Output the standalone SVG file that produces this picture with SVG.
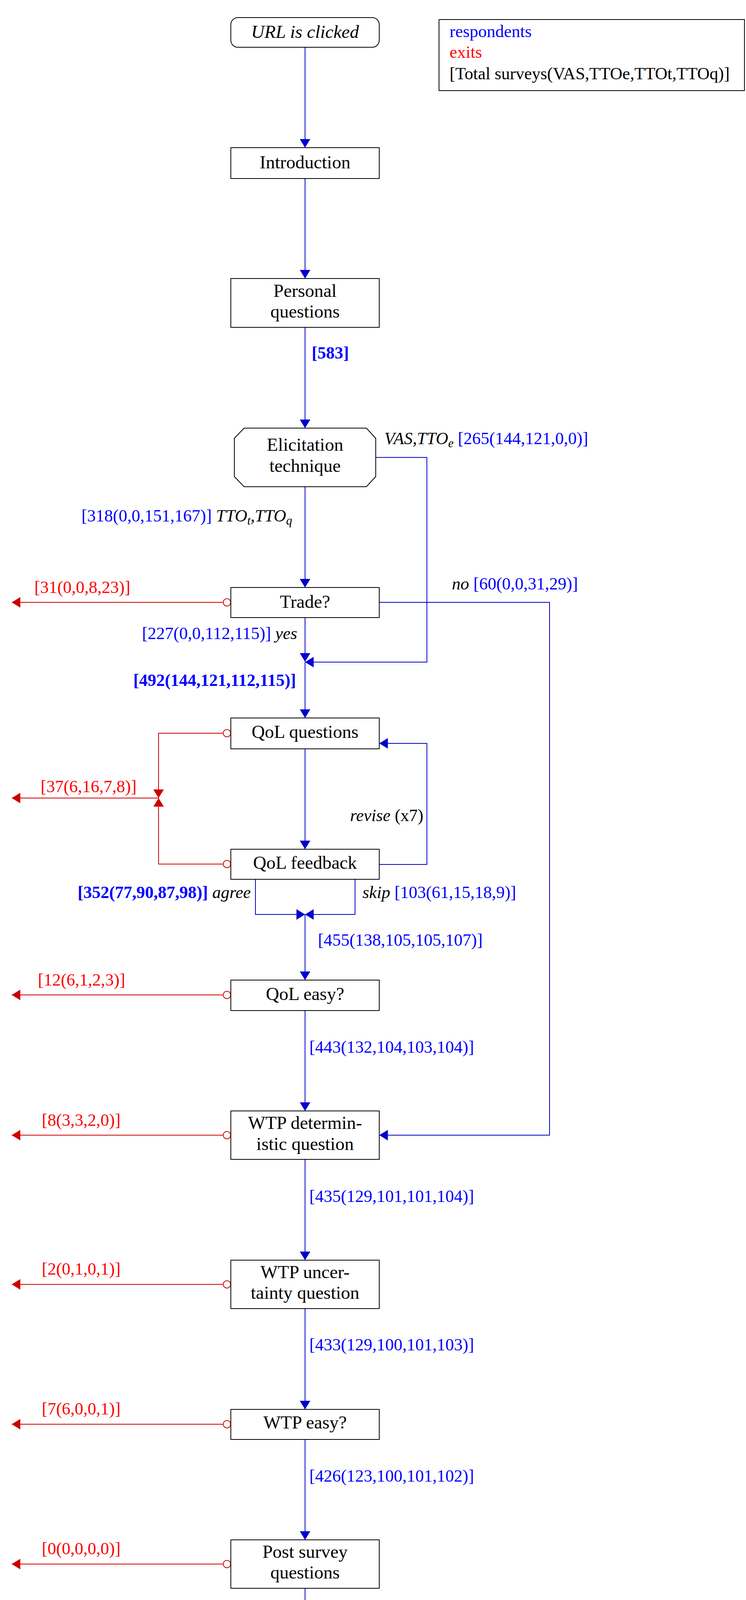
<svg xmlns="http://www.w3.org/2000/svg" width="1910" height="4386" viewBox="0 0 1910 4386">
<style>
text{font-family:"Liberation Serif","Times New Roman",serif;}
.node{fill:#fff;stroke:#000;stroke-width:2;}
.nt{font-size:47px;fill:#000;text-anchor:middle;}
.lb{font-size:44px;}
.b{fill:#0000ff;}
.r{fill:#ff0000;}
.k{fill:#000;}
.it{font-style:italic;}
.bd{font-weight:bold;}
.cb{fill:none;stroke:#0000cc;stroke-width:2;}
.cr{fill:none;stroke:#cc0000;stroke-width:2;}
.circ{fill:#fff;stroke:#cc0000;stroke-width:2;}
</style>
<defs>
<marker id="ab" markerUnits="userSpaceOnUse" markerWidth="22" markerHeight="27" refX="22" refY="13.5" orient="auto" viewBox="0 0 22 27">
<path d="M0,0 L22,13.5 L0,27 z" fill="#0000cc"/>
</marker>
<marker id="ar" markerUnits="userSpaceOnUse" markerWidth="22" markerHeight="27" refX="22" refY="13.5" orient="auto" viewBox="0 0 22 27">
<path d="M0,0 L22,13.5 L0,27 z" fill="#cc0000"/>
</marker>
</defs>
<rect width="1910" height="4386" fill="#fff"/>

<g id="connectors">
<path class="cb" d="M781,121 V378" marker-end="url(#ab)"/>
<path class="cb" d="M781,457 V713" marker-end="url(#ab)"/>
<path class="cb" d="M781,838 V1096" marker-end="url(#ab)"/>
<path class="cb" d="M781,1246 V1504" marker-end="url(#ab)"/>
<path class="cb" d="M962,1171 H1093 V1695 H781" marker-end="url(#ab)"/>
<path class="cb" d="M781,1581 V1694" marker-end="url(#ab)"/>
<path class="cb" d="M781,1695 V1838" marker-end="url(#ab)"/>
<path class="cb" d="M971,1542 H1407 V2906 H971" marker-end="url(#ab)"/>
<path class="cb" d="M781,1917 V2174" marker-end="url(#ab)"/>
<path class="cb" d="M971,2213 H1093 V1903 H971" marker-end="url(#ab)"/>
<path class="cb" d="M654,2251 V2341 H781" marker-end="url(#ab)"/>
<path class="cb" d="M909,2251 V2341 H781" marker-end="url(#ab)"/>
<path class="cb" d="M781,2341 V2509" marker-end="url(#ab)"/>
<path class="cb" d="M781,2587 V2844" marker-end="url(#ab)"/>
<path class="cb" d="M781,2968 V3226" marker-end="url(#ab)"/>
<path class="cb" d="M781,3350 V3608" marker-end="url(#ab)"/>
<path class="cb" d="M781,3685 V3942" marker-end="url(#ab)"/>
<path class="cb" d="M781,4066 V4324" marker-end="url(#ab)"/>

<path class="cr" d="M571,1542 H30" marker-end="url(#ar)"/>
<path class="cr" d="M571,1877 H406 V2043" marker-end="url(#ar)"/>
<path class="cr" d="M571,2212 H406 V2043" marker-end="url(#ar)"/>
<path class="cr" d="M406,2043 H30" marker-end="url(#ar)"/>
<path class="cr" d="M571,2547 H30" marker-end="url(#ar)"/>
<path class="cr" d="M571,2906 H30" marker-end="url(#ar)"/>
<path class="cr" d="M571,3288 H30" marker-end="url(#ar)"/>
<path class="cr" d="M571,3646 H30" marker-end="url(#ar)"/>
<path class="cr" d="M571,4004 H30" marker-end="url(#ar)"/>
<circle class="circ" cx="581" cy="1542" r="9.5"/>
<circle class="circ" cx="581" cy="1877" r="9.5"/>
<circle class="circ" cx="581" cy="2212" r="9.5"/>
<circle class="circ" cx="581" cy="2547" r="9.5"/>
<circle class="circ" cx="581" cy="2906" r="9.5"/>
<circle class="circ" cx="581" cy="3288" r="9.5"/>
<circle class="circ" cx="581" cy="3646" r="9.5"/>
<circle class="circ" cx="581" cy="4004" r="9.5"/>

<text class="lb b bd" x="798" y="918">[583]</text>
<text class="lb" x="748" y="1335" text-anchor="end"><tspan class="b">[318(0,0,151,167)] </tspan><tspan class="k it">TTO<tspan font-size="31" dy="8">t</tspan><tspan dy="-8">,TTO</tspan><tspan font-size="31" dy="8">q</tspan></tspan></text>
<text class="lb" x="984" y="1137"><tspan class="k it">VAS,TTO<tspan font-size="31" dy="8">e</tspan></tspan><tspan class="b" dy="-8"> [265(144,121,0,0)]</tspan></text>
<text class="lb" x="1157" y="1509"><tspan class="k it">no</tspan><tspan class="b"> [60(0,0,31,29)]</tspan></text>
<text class="lb" x="761" y="1636" text-anchor="end"><tspan class="b">[227(0,0,112,115)] </tspan><tspan class="k it">yes</tspan></text>
<text class="lb b bd" x="758" y="1756" text-anchor="end">[492(144,121,112,115)]</text>
<text class="lb k" x="1084" y="2102" text-anchor="end"><tspan class="it">revise</tspan> (x7)</text>
<text class="lb" x="642" y="2299" text-anchor="end"><tspan class="b bd">[352(77,90,87,98)] </tspan><tspan class="k it">agree</tspan></text>
<text class="lb" x="928" y="2299"><tspan class="k it">skip</tspan><tspan class="b"> [103(61,15,18,9)]</tspan></text>
<text class="lb b" x="814" y="2421">[455(138,105,105,107)]</text>
<text class="lb b" x="792" y="2695">[443(132,104,103,104)]</text>
<text class="lb b" x="792" y="3077">[435(129,101,101,104)]</text>
<text class="lb b" x="792" y="3457">[433(129,100,101,103)]</text>
<text class="lb b" x="792" y="3793">[426(123,100,101,102)]</text>
<text class="lb b" x="792" y="4174">[426(123,100,101,102)]</text>

<text class="lb r" x="88" y="1518">[31(0,0,8,23)]</text>
<text class="lb r" x="104" y="2028">[37(6,16,7,8)]</text>
<text class="lb r" x="97" y="2523">[12(6,1,2,3)]</text>
<text class="lb r" x="107" y="2882">[8(3,3,2,0)]</text>
<text class="lb r" x="107" y="3263">[2(0,1,0,1)]</text>
<text class="lb r" x="107" y="3621">[7(6,0,0,1)]</text>
<text class="lb r" x="107" y="3979">[0(0,0,0,0)]</text>
</g>

<g id="legend">
<rect x="1124" y="50" width="782" height="182" fill="#fff" stroke="#000" stroke-width="2"/>
<text class="lb b" x="1151" y="95">respondents</text>
<text class="lb r" x="1151" y="148">exits</text>
<text class="lb k" x="1151" y="203">[Total surveys(VAS,TTOe,TTOt,TTOq)]</text>
</g>

<g id="start">
<rect class="node" x="591" y="45" width="380" height="76" rx="18"/>
<text class="nt it" x="781" y="97" font-size="44">URL is clicked</text>
</g>
<g id="introduction">
<rect class="node" x="591" y="378" width="380" height="79"/>
<text class="nt" x="781" y="431">Introduction</text>
</g>
<g id="personal">
<rect class="node" x="591" y="713" width="380" height="125"/>
<text class="nt" x="781" y="760">Personal</text>
<text class="nt" x="781" y="813">questions</text>
</g>
<g id="elicitation">
<polygon class="node" points="625,1096 938,1096 962,1122 962,1220 938,1246 625,1246 600,1220 600,1122"/>
<text class="nt" x="781" y="1154">Elicitation</text>
<text class="nt" x="781" y="1208">technique</text>
</g>
<g id="trade">
<rect class="node" x="591" y="1504" width="380" height="77"/>
<text class="nt" x="781" y="1556">Trade?</text>
</g>
<g id="qol-questions">
<rect class="node" x="591" y="1838" width="380" height="79"/>
<text class="nt" x="781" y="1889">QoL questions</text>
</g>
<g id="qol-feedback">
<rect class="node" x="591" y="2174" width="380" height="77"/>
<text class="nt" x="781" y="2224">QoL feedback</text>
</g>
<g id="qol-easy">
<rect class="node" x="591" y="2509" width="380" height="78"/>
<text class="nt" x="781" y="2560">QoL easy?</text>
</g>
<g id="wtp-det">
<rect class="node" x="591" y="2844" width="380" height="124"/>
<text class="nt" x="781" y="2890">WTP determin-</text>
<text class="nt" x="781" y="2944">istic question</text>
</g>
<g id="wtp-unc">
<rect class="node" x="591" y="3226" width="380" height="124"/>
<text class="nt" x="781" y="3272">WTP uncer-</text>
<text class="nt" x="781" y="3325">tainty question</text>
</g>
<g id="wtp-easy">
<rect class="node" x="591" y="3608" width="380" height="77"/>
<text class="nt" x="781" y="3657">WTP easy?</text>
</g>
<g id="post-survey">
<rect class="node" x="591" y="3942" width="380" height="124"/>
<text class="nt" x="781" y="3988">Post survey</text>
<text class="nt" x="781" y="4041">questions</text>
</g>
<g id="end">
<rect class="node" x="591" y="4324" width="380" height="77" rx="18"/>
<text class="nt" x="781" y="4377">End</text>
</g>
</svg>
